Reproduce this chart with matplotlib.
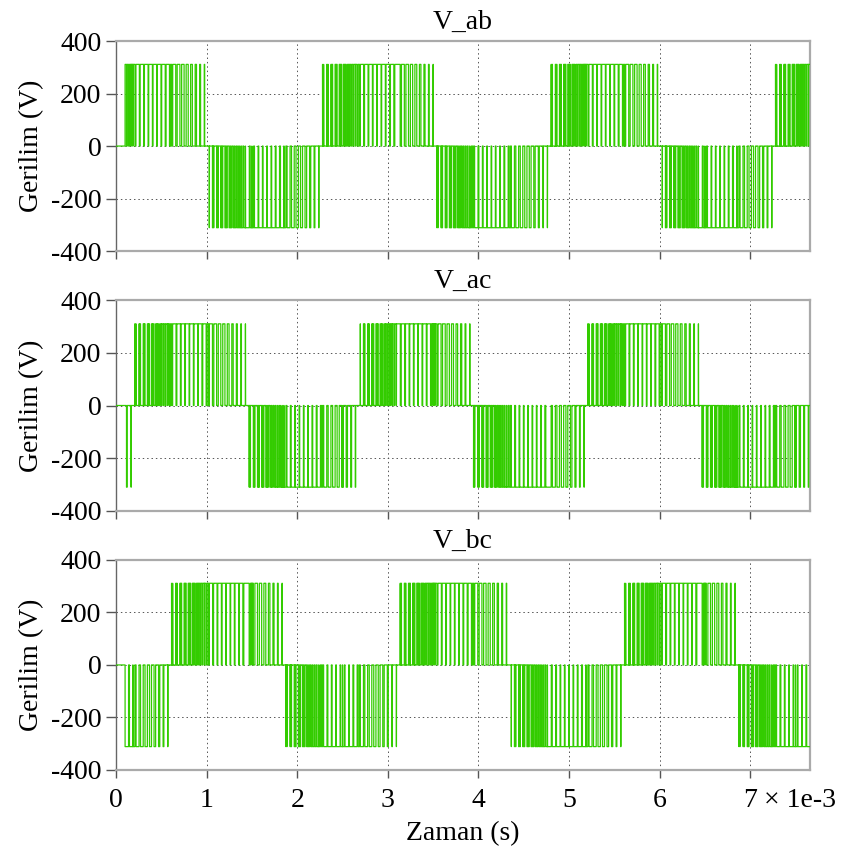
import numpy as np
import matplotlib
matplotlib.use("Agg")
import matplotlib.pyplot as plt

# Inverter / PWM settings
V_DC = 311.0            # DC link voltage (V)
F_OUT = 400.0           # fundamental frequency (Hz)
F_CARRIER = 21000.0     # triangular carrier frequency (Hz)
M_INDEX = 1.0           # modulation index
PHASE_A_DEG = 3.0       # phase of leg a reference (deg)
CLAMP_SHIFT_DEG = 30.0  # discontinuous PWM: clamp window lags each peak
T_START_MS = 0.1        # gating enabled from this time (ms)
T_END_MS = 7.66         # end of record (ms)

PANEL_TITLES = ["V_ab", "V_ac", "V_bc"]
PANEL_PAIRS = [(0, 1), (0, 2), (1, 2)]
Y_TICKS = [-400, -200, 0, 200, 400]
X_TICKS = [0, 1, 2, 3, 4, 5, 6, 7]
X_TICK_LABELS = ["0", "1", "2", "3", "4", "5", "6", "7"]
X_SCALE_NOTE = "\u00d7 1e-3"

plt.rcParams["font.family"] = ["Liberation Serif", "DejaVu Serif"]
plt.rcParams["axes.unicode_minus"] = False
FS = 20

# time base (ms)
t_ms = np.arange(0.0, T_END_MS, 0.0004)
t = t_ms * 1e-3

# symmetric triangular carrier in [-1, 1]
phase_c = (t * F_CARRIER) % 1.0
carrier = 1.0 - 4.0 * np.abs(phase_c - 0.5)

# sinusoidal references with 60-degree discontinuous clamping
w = 2 * np.pi * F_OUT
ph0 = np.deg2rad(PHASE_A_DEG)
shift = np.deg2rad(CLAMP_SHIFT_DEG)
refs = np.array([M_INDEX * np.sin(w * t + ph0 - k * 2 * np.pi / 3) for k in range(3)])
lagged = np.array([np.sin(w * t + ph0 - k * 2 * np.pi / 3 - shift) for k in range(3)])
k_clamp = np.argmax(np.abs(lagged), axis=0)
idx = np.arange(t.size)
sgn = np.sign(lagged[k_clamp, idx])
offset = sgn - refs[k_clamp, idx]
mod = refs + offset
gates = (mod > carrier).astype(float)
enabled = t_ms >= T_START_MS

fig, axes = plt.subplots(3, 1, figsize=(8.42, 8.51), dpi=100, sharex=True)
fig.subplots_adjust(left=0.1378, right=0.962, top=0.9518, bottom=0.0952, hspace=0.235)

green = "#33cc00"
for ax, title, (i, j) in zip(axes, PANEL_TITLES, PANEL_PAIRS):
    v = V_DC * (gates[i] - gates[j]) * enabled
    ax.plot(t_ms, v, color=green, lw=0.9, drawstyle="steps-post", zorder=3)
    ax.set_xlim(0, T_END_MS)
    ax.set_ylim(-400, 400)
    ax.set_yticks(Y_TICKS)
    ax.set_xticks(X_TICKS)
    ax.grid(True, color="#555555", linestyle=(0, (1.5, 3)), linewidth=0.7)
    ax.set_title(title, fontsize=FS, pad=9)
    ax.set_ylabel("Gerilim (V)", fontsize=FS, labelpad=5)
    ax.tick_params(axis="y", direction="out", length=7, width=1,
                   color="#555555", labelsize=FS, pad=3.6)
    ax.tick_params(axis="x", direction="out", length=5.8, width=1,
                   color="#555555", labelsize=FS, pad=7)
    for side in ["top", "right", "bottom"]:
        ax.spines[side].set_color("#aaaaaa")
        ax.spines[side].set_linewidth(1.6)
    ax.spines["left"].set_color("#666666")
    ax.spines["left"].set_linewidth(1.0)

axes[-1].set_xticklabels(X_TICK_LABELS)
axes[-1].annotate(X_SCALE_NOTE, xy=(7, 0), xycoords=("data", "axes fraction"),
                  xytext=(10, -12.8), textcoords="offset points",
                  fontsize=FS, ha="left", va="top")
axes[-1].set_xlabel("Zaman (s)", fontsize=FS, labelpad=6)

fig.savefig("out.png", dpi=100)
